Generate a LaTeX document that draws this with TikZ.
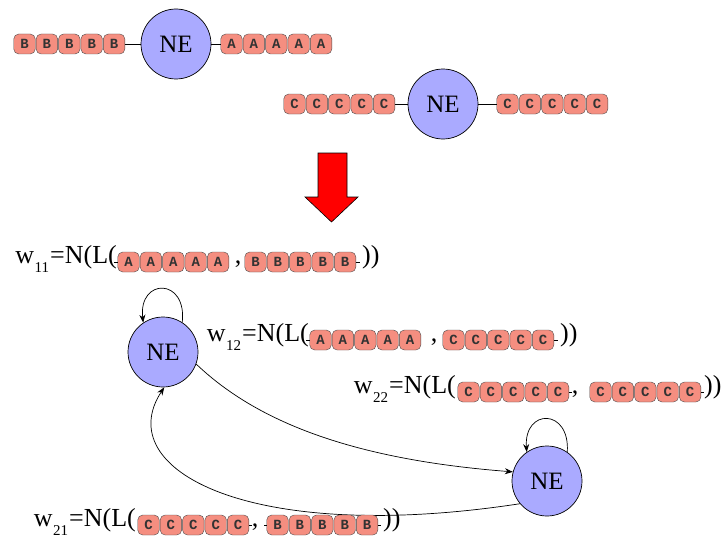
\documentclass[tikz,border=0pt]{standalone}
\usepackage{fontspec}
\setmainfont{Liberation Serif}
\newfontfamily\cellfont{Liberation Mono}
\usetikzlibrary{arrows.meta,calc}
\definecolor{cellfill}{RGB}{245,142,128}
\definecolor{nefill}{RGB}{170,170,255}
\newcommand\lsub[1]{\kern0.5pt\raisebox{-9pt}{\fontsize{15}{15}\selectfont #1}\kern1pt}
\tikzset{
  cell/.style={draw=black!70, fill=cellfill, rounded corners=5pt,
    minimum width=21.5pt, minimum height=20pt, inner sep=0pt,
    font=\cellfont\bfseries\fontsize{14}{14}\selectfont, text=black!80},
  chain/.pic={\foreach \k in {1,...,5}{\node[cell] (-c\k) at ({(\k-1)*22.4},0) {\tikzpictext};}},
  nestate/.style={circle, draw=black, fill=nefill, line width=0.7pt,
    minimum size=70pt, inner sep=0pt, font=\fontsize{25}{25}\selectfont},
  lbl/.style={inner sep=0pt, font=\fontsize{26}{26}\selectfont},
  link/.style={line width=0.7pt},
  trans/.style={line width=0.7pt, -{Stealth[length=8pt,width=6pt]}}
}
\begin{document}
\begin{tikzpicture}[x=1pt,y=-1pt]
\useasboundingbox (0,0) rectangle (722,551);

% two input automata
\pic[pic text=B] (tb) at (24.5,44) {chain};
\node[nestate] (tn1) at (176,44) {NE};
\pic[pic text=A] (ta) at (231.5,44) {chain};
\draw[link] (tb-c5.east) -- (tn1);
\draw[link] (tn1) -- (ta-c1.west);

\pic[pic text=C] (sc) at (294.5,104) {chain};
\node[nestate] (tn2) at (443,104) {NE};
\pic[pic text=C] (sd) at (507.5,104) {chain};
\draw[link] (sc-c5.east) -- (tn2);
\draw[link] (tn2) -- (sd-c1.west);

% transformation arrow
\filldraw[fill=red, draw=black, line width=0.6pt]
  (318,153) -- (347,153) -- (347,197) -- (358,197) -- (331.5,222)
  -- (305,197) -- (318,197) -- cycle;

% combined automaton
\node[nestate] (n1) at (163,352) {NE};
\node[nestate] (n2) at (547,481) {NE};
\draw[trans] (n1.57) .. controls +(5,-45) and +(-5,-45) .. (n1.124);
\draw[trans] (n2.55) .. controls +(3,-44) and +(-3,-44) .. (n2.125);
\draw[trans] (n1.-20) .. controls (260,425) and (360,460) .. (n2.165);
\draw[trans] (n2.-140) .. controls (250,545) and (110,470) .. (n1.-88);

% weight w11
\pic[pic text=A] (wa) at (128.5,262) {chain};
\pic[pic text=B] (wb) at (255.5,262) {chain};
\node[lbl, anchor=base east] (t11) at (117,263) {w\lsub{11}=N(L(};
\node[lbl, anchor=base] (k11) at (238,263) {,};
\node[lbl, anchor=base west] (e11) at (362,263) {))};
\draw[link] (wa-c1.west) -- ++(-4,0);
\draw[link] (wb-c5.east) -- ++(4,0);

% weight w12
\pic[pic text=A] (xa) at (320.5,340) {chain};
\pic[pic text=C] (xc) at (453.5,340) {chain};
\node[lbl, anchor=base east] (t12) at (309,341) {w\lsub{12}=N(L(};
\node[lbl, anchor=base] (k12) at (434,341) {,};
\node[lbl, anchor=base west] (e12) at (560,341) {))};
\draw[link] (xa-c1.west) -- ++(-4,0);
\draw[link] (xc-c5.east) -- ++(4,0);

% weight w22
\pic[pic text=C] (ya) at (468.5,392) {chain};
\pic[pic text=C] (yc) at (600.5,392) {chain};
\node[lbl, anchor=base east] (t22) at (456,393) {w\lsub{22}=N(L(};
\node[lbl, anchor=base] (k22) at (575,393) {,};
\node[lbl, anchor=base west] (e22) at (704,393) {))};
\draw[link] (ya-c5.east) -- ++(3,0);
\draw[link] (yc-c5.east) -- ++(3,0);

% weight w21
\pic[pic text=C] (za) at (148.5,525) {chain};
\pic[pic text=B] (zb) at (277.5,525) {chain};
\node[lbl, anchor=base east] (t21) at (136,526) {w\lsub{21}=N(L(};
\node[lbl, anchor=base] (k21) at (255,526) {,};
\node[lbl, anchor=base west] (e21) at (383,526) {))};
\draw[link] (za-c5.east) -- ++(3,0);
\draw[link] (zb-c1.west) -- ++(-3,0);
\draw[link] (zb-c5.east) -- ++(3,0);
\end{tikzpicture}
\end{document}
